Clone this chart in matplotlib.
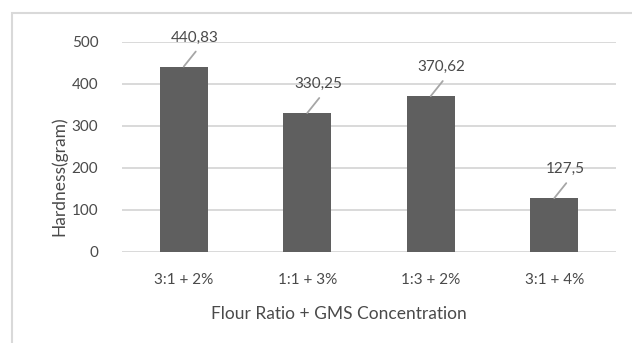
import matplotlib
matplotlib.use("Agg")
import matplotlib.pyplot as plt
from matplotlib.patches import Rectangle

categories = ["3:1 + 2%", "1:1 + 3%", "1:3 + 2%", "3:1 + 4%"]
hardness = [440.83, 330.25, 370.62, 127.5]
value_labels = ["440,83", "330,25", "370,62", "127,5"]
yticks = [0, 100, 200, 300, 400, 500]

W, H = 632, 343
DPI = 100
fig = plt.figure(figsize=(W / DPI, H / DPI), dpi=DPI)
plt.rcParams['font.family'] = ['Lato', 'DejaVu Sans']

text_color = "#4a4a4a"
bar_color = "#5f5f5f"
grid_color = "#d9d9d9"

left, right = 122, 616
top_px, bot_px = 41.7, 251.7
ax = fig.add_axes([left / W, 1 - bot_px / H, (right - left) / W, (bot_px - top_px) / H])
ax.set_ylim(0, 500)
ax.set_xlim(-0.5, 3.5)
ax.set_facecolor("none")

x = list(range(len(categories)))
ax.bar(x, hardness, width=0.39, color=bar_color, zorder=3)

ax.set_yticks(yticks)
ax.set_xticks(x)
ax.set_xticklabels(categories)
ax.tick_params(axis='both', length=0, labelsize=11, colors=text_color)
ax.tick_params(axis='y', pad=17)
ax.tick_params(axis='x', pad=15)
ax.yaxis.grid(True, color=grid_color, linewidth=1.4, zorder=0)
ax.set_axisbelow(True)
for s in ax.spines.values():
    s.set_visible(False)

px2pt = 72 / DPI
for xi, v, lab in zip(x, hardness, value_labels):
    ax.annotate("", xy=(xi, v), xytext=(12 * px2pt, 15 * px2pt), textcoords="offset points",
                arrowprops=dict(arrowstyle="-", color="#a6a6a6", lw=1.3, shrinkA=0, shrinkB=0),
                annotation_clip=False)
    ax.annotate(lab, xy=(xi, v), xytext=(11 * px2pt, 29 * px2pt), textcoords="offset points",
                ha="center", va="center", fontsize=11, color=text_color, annotation_clip=False)

fig.text(59 / W, 1 - 176 / H, "Hardness(gram)", rotation=90, ha="center", va="center",
         fontsize=12.5, color=text_color)
fig.text(339 / W, 1 - 314 / H, "Flour Ratio + GMS Concentration", ha="center", va="center",
         fontsize=12.5, color=text_color)

fig.add_artist(Rectangle((12 / W, -0.1), 1.2, 1 - 12.5 / H + 0.1, transform=fig.transFigure,
                         fill=False, edgecolor="#d9d9d9", linewidth=1.5))

fig.savefig("out.png", dpi=DPI)
